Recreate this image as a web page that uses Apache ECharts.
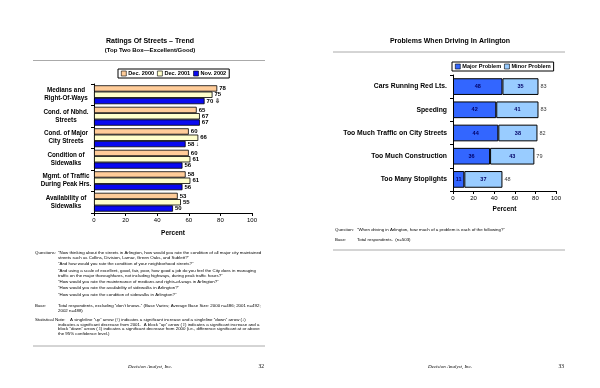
<!DOCTYPE html>
<html><head><meta charset="utf-8">
<script src="https://cdn.jsdelivr.net/npm/echarts@6/dist/echarts.min.js"></script>
<style>html,body{margin:0;padding:0;background:#fff}#c{width:600px;height:388px}</style>
</head><body><div id="c"></div>
<script>
// ---- data ----
const trendCategories = ["Medians and\nRight-Of-Ways","Cond. of Nbhd.\nStreets","Cond. of Major\nCity Streets","Condition of\nSidewalks","Mgmt. of Traffic\nDuring Peak Hrs.","Availability of\nSidewalks"];
const trendSeriesNames = ["Dec. 2000","Dec. 2001","Nov. 2002"];
const dec2000 = [78,65,60,60,58,53];
const dec2001 = [75,67,66,61,61,55];
const nov2002 = [70,67,58,56,56,50];
const nov2002Sig = ["\u21E9","","\u2193","","",""];
const problemCategories = ["Cars Running Red Lts.","Speeding","Too Much Traffic on City Streets","Too Much Construction","Too Many Stoplights"];
const problemSeriesNames = ["Major Problem","Minor Problem"];
const majorProblem = [48,42,44,36,11];
const minorProblem = [35,41,38,43,37];
const problemTotals = [83,83,82,79,48];
const percentTicks = [0,20,40,60,80,100];

const SANS = '"Liberation Sans", Arial, sans-serif';
const SERIF = '"Liberation Serif", "Times New Roman", serif';
const NOTE = 4.4;

function txt(x, y, text, o) {
  o = o || {};
  return { type: 'text', x: x, y: y, silent: true,
    style: { text: text, fill: o.fill || '#000', fontSize: o.size || NOTE, fontFamily: o.family || SANS,
      fontWeight: o.weight || 'normal', fontStyle: o.style || 'normal',
      textAlign: o.align || 'left', textVerticalAlign: 'middle' } };
}
function hline(x1, x2, y, c) {
  return { type: 'line', silent: true, shape: { x1: x1, y1: y, x2: x2, y2: y }, style: { stroke: c || '#aaa', lineWidth: 1 } };
}

const chart = echarts.init(document.getElementById('c'), null, { renderer: 'canvas' });

const axisLineStyle = { show: true, lineStyle: { color: '#000', width: 1 } };
function valueAxis(idx, gap) {
  return { type: 'value', gridIndex: idx, min: percentTicks[0], max: percentTicks[percentTicks.length - 1], interval: 20,
    axisLine: axisLineStyle, axisTick: { show: true, length: 3, lineStyle: { color: '#000' } },
    splitLine: { show: false },
    axisLabel: { fontSize: 6, color: '#000', fontFamily: SANS, margin: 4 },
    name: 'Percent', nameLocation: 'middle', nameGap: gap,
    nameTextStyle: { fontSize: 6.5, fontWeight: 'bold', color: '#000', fontFamily: SANS } };
}
function legendOf(names, left, top) {
  return { data: names, left: left, top: top, orient: 'horizontal', icon: 'rect',
    itemWidth: 5, itemHeight: 5, itemGap: 3, padding: [1.5, 3, 1.5, 3],
    borderColor: '#000', borderWidth: 1, selectedMode: false,
    itemStyle: { borderColor: '#000', borderWidth: 0.6 },
    textStyle: { fontSize: 5.6, fontWeight: 'bold', color: '#000', fontFamily: SANS, padding: [0, 0, 0, -3] } };
}

const option = {
  backgroundColor: '#fff',
  animation: false,
  grid: [
    { left: 94, top: 84, width: 158, height: 129 },
    { left: 453, top: 75, width: 103, height: 116 }
  ],
  xAxis: [ valueAxis(0, 17), valueAxis(1, 15) ],
  yAxis: [
    { type: 'category', gridIndex: 0, inverse: true, data: trendCategories,
      axisLine: axisLineStyle, axisTick: { show: true, length: 3, lineStyle: { color: '#000' } },
      axisLabel: { fontSize: 6.3, fontWeight: 'bold', color: '#000', fontFamily: SANS, align: 'center', margin: 28, lineHeight: 8 } },
    { type: 'category', gridIndex: 1, inverse: true, data: problemCategories,
      axisLine: axisLineStyle, axisTick: { show: true, length: 3, lineStyle: { color: '#000' } },
      axisLabel: { fontSize: 6.8, fontWeight: 'bold', color: '#000', fontFamily: SANS, margin: 6 } }
  ],
  legend: [ legendOf(trendSeriesNames, 118, 69), legendOf(problemSeriesNames, 452, 62) ],
  series: [
    { name: trendSeriesNames[0], type: 'bar', xAxisIndex: 0, yAxisIndex: 0, data: dec2000,
      barGap: '0%', barCategoryGap: '12%',
      itemStyle: { color: '#FFCC99', borderColor: '#000', borderWidth: 0.8 },
      label: { show: true, position: 'right', distance: 2, fontSize: 6, fontWeight: 'bold', color: '#000', fontFamily: SANS } },
    { name: trendSeriesNames[1], type: 'bar', xAxisIndex: 0, yAxisIndex: 0, data: dec2001,
      barGap: '0%', barCategoryGap: '12%',
      itemStyle: { color: '#FFFFCC', borderColor: '#000', borderWidth: 0.8 },
      label: { show: true, position: 'right', distance: 2, fontSize: 6, fontWeight: 'bold', color: '#000', fontFamily: SANS } },
    { name: trendSeriesNames[2], type: 'bar', xAxisIndex: 0, yAxisIndex: 0, data: nov2002,
      barGap: '0%', barCategoryGap: '12%',
      itemStyle: { color: '#0A0AF0', borderColor: '#000', borderWidth: 0.8 },
      label: { show: true, position: 'right', distance: 2, fontSize: 6, fontWeight: 'bold', color: '#000', fontFamily: SANS,
        formatter: function (p) { const s = nov2002Sig[p.dataIndex]; return s ? p.value + ' ' + s : String(p.value); } } },
    { name: problemSeriesNames[0], type: 'bar', stack: 'prob', xAxisIndex: 1, yAxisIndex: 1, data: majorProblem,
      barCategoryGap: '28%',
      itemStyle: { color: '#3366FF', borderColor: '#000', borderWidth: 1 },
      label: { show: true, position: 'inside', fontSize: 5.5, fontWeight: 'bold', color: '#000066', fontFamily: SANS } },
    { name: problemSeriesNames[1], type: 'bar', stack: 'prob', xAxisIndex: 1, yAxisIndex: 1, data: minorProblem,
      barCategoryGap: '28%',
      itemStyle: { color: '#99CCFF', borderColor: '#000', borderWidth: 1 },
      label: { show: true, position: 'inside', fontSize: 5.5, fontWeight: 'bold', color: '#000066', fontFamily: SANS } },
    { name: 'Total', type: 'scatter', xAxisIndex: 1, yAxisIndex: 1, symbolSize: 0,
      data: problemTotals.map(function (v, i) { return [v, problemCategories[i]]; }),
      label: { show: true, position: 'right', distance: 2, fontSize: 5.5, color: '#000', fontFamily: SANS,
        formatter: function (p) { return String(p.value[0]); } } }
  ],
  graphic: [
    txt(150, 41, 'Ratings Of Streets \u2013 Trend', { size: 7, weight: 'bold', align: 'center' }),
    txt(150, 50, '(Top Two Box\u2014Excellent/Good)', { size: 6, weight: 'bold', align: 'center' }),
    hline(33, 265, 60.5),
    txt(450, 41, 'Problems When Driving In Arlington', { size: 7, weight: 'bold', align: 'center' }),
    hline(333, 565, 52),

    txt(35, 253, 'Questions:'),
    txt(58, 253, '\u201CNow thinking about the streets in Arlington, how would you rate the condition of all major city maintained'),
    txt(58, 257.5, 'streets such as Collins, Division, Lamar, Green Oaks, and Sublett?\u201D'),
    txt(58, 264, '\u201CAnd how would you rate the condition of your neighborhood streets?\u201D'),
    txt(58, 271, '\u201CAnd using a scale of excellent, good, fair, poor, how good a job do you feel the City does in managing'),
    txt(58, 275.5, 'traffic on the major thoroughfares, not including highways, during peak traffic hours?\u201D'),
    txt(58, 281.5, '\u201CHow would you rate the maintenance of medians and rights-of-ways in Arlington?\u201D'),
    txt(58, 288, '\u201CHow would you rate the availability of sidewalks in Arlington?\u201D'),
    txt(58, 295, '\u201CHow would you rate the condition of sidewalks in Arlington?\u201D'),
    txt(35, 306, 'Base:'),
    txt(58, 306, 'Total respondents, excluding \u201Cdon\u2019t knows.\u201D (Base Varies; Average Base Size: 2000 n=486; 2001 n=492;'),
    txt(58, 310.5, '2002 n=488)'),
    txt(35, 320, 'Statistical Note:'),
    txt(70, 320, 'A singleline \u201Cup\u201D arrow (\u2191) indicates a significant increase and a singleline \u201Cdown\u201D arrow (\u2193)'),
    txt(58, 324.5, 'indicates a significant decrease from 2001.  A block \u201Cup\u201D arrow (\u21E7) indicates a significant increase and a'),
    txt(58, 329, 'block \u201Cdown\u201D arrow (\u21E9) indicates a significant decrease from 2000 (i.e., difference significant at or above'),
    txt(58, 333.5, 'the 95% confidence level.)'),
    hline(33, 265, 346),
    txt(150, 367, 'Decision Analyst, Inc.', { size: 5, family: SERIF, style: 'italic', align: 'center' }),
    txt(264, 367, '32', { size: 5.5, family: SERIF, align: 'right' }),

    txt(335, 230, 'Question:'),
    txt(357, 230, '\u201CWhen driving in Arlington, how much of a problem is each of the following?\u201D'),
    txt(335, 240, 'Base:'),
    txt(357, 240, 'Total respondents.  (n=503)'),
    hline(333, 565, 250),
    txt(450, 367, 'Decision Analyst, Inc.', { size: 5, family: SERIF, style: 'italic', align: 'center' }),
    txt(564, 367, '33', { size: 5.5, family: SERIF, align: 'right' })
  ]
};
chart.setOption(option);
</script>
</body></html>
